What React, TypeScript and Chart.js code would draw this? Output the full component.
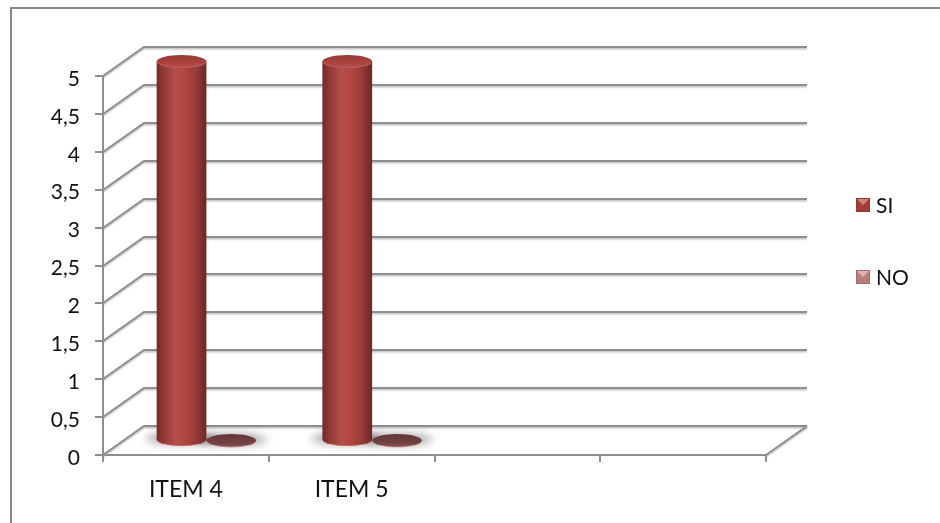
import React, { useEffect, useRef } from 'react';
import { Chart, registerables } from 'chart.js';

Chart.register(...registerables);

// ---- data ----
const categories = ['ITEM 4', 'ITEM 5', '', ''];
const siValues: (number | null)[] = [5, 5, null, null];
const noValues: (number | null)[] = [0, 0, null, null];
const seriesNames = ['SI', 'NO'];
const seriesColors = ['#b0433f', '#c98886'];
const yMin = 0;
const yMax = 5;
const yStep = 0.5;

// ---- look ----
const FONT = 'Lato, "Noto Sans", sans-serif';
const TEXT = '#111111';
const GRID = '#8e8e8e';
const DEPTH_X = 41; // horizontal shift from the front plane to the back wall
const DEPTH_Y = -29; // vertical shift from the front plane to the back wall

// Back wall, side wall diagonals, floor and the outer frame
const walls3d = {
  id: 'walls3d',
  beforeDraw(chart: any) {
    const { ctx, chartArea: a, scales } = chart;
    const y = scales.y;
    ctx.save();
    ctx.strokeStyle = '#878787';
    ctx.lineWidth = 2;
    ctx.beginPath();
    ctx.moveTo(11, chart.height);
    ctx.lineTo(11, 8);
    ctx.lineTo(chart.width, 8);
    ctx.stroke();

    ctx.strokeStyle = GRID;
    ctx.lineWidth = 2;
    ctx.shadowColor = 'rgba(0,0,0,0.25)';
    ctx.shadowOffsetY = 1.5;
    ctx.shadowBlur = 1.5;
    y.ticks.forEach((t: any) => {
      const py = Math.round(y.getPixelForValue(t.value));
      ctx.beginPath();
      ctx.moveTo(a.left, py);
      ctx.lineTo(a.left + DEPTH_X, py + DEPTH_Y);
      ctx.lineTo(a.right + DEPTH_X, py + DEPTH_Y);
      ctx.stroke();
    });
    const p0 = Math.round(y.getPixelForValue(yMin));
    ctx.beginPath();
    ctx.moveTo(a.right, p0);
    ctx.lineTo(a.right + DEPTH_X, p0 + DEPTH_Y);
    ctx.stroke();
    ctx.restore();
  },
};

function shade(hex: string, f: number) {
  const n = parseInt(hex.slice(1), 16);
  const c = [(n >> 16) & 255, (n >> 8) & 255, n & 255].map((v) =>
    Math.max(0, Math.min(255, Math.round(f < 1 ? v * f : v + (255 - v) * (f - 1))))
  );
  return `rgb(${c[0]},${c[1]},${c[2]})`;
}

// Bars drawn as cylinders standing in the middle of the depth
const cylinders = {
  id: 'cylinders',
  beforeDatasetsDraw(chart: any) {
    const ctx = chart.ctx;
    ctx.save();
    ctx.filter = 'blur(4px)';
    ctx.fillStyle = 'rgba(0,0,0,0.34)';
    chart.data.datasets.forEach((ds: any, di: number) => {
      const meta = chart.getDatasetMeta(di);
      meta.data.forEach((el: any, i: number) => {
        if (ds.data[i] == null) return;
        const { x, base, width } = el.getProps(['x', 'base', 'width'], true);
        const cx = x + DEPTH_X / 2;
        const by = base + DEPTH_Y / 2;
        ctx.beginPath();
        ctx.ellipse(cx, by - 1, width / 2 + 11, 6, 0, 0, Math.PI * 2);
        ctx.fill();
      });
    });
    ctx.restore();
  },
  beforeDatasetDraw(chart: any, args: any) {
    const ctx = chart.ctx;
    const ds = chart.data.datasets[args.index];
    const color: string = ds.backgroundColor;
    ctx.save();
    args.meta.data.forEach((el: any, i: number) => {
      const v = ds.data[i];
      if (v == null) return;
      const { x, y, base, width } = el.getProps(['x', 'y', 'base', 'width'], true);
      const cx = x + DEPTH_X / 2;
      const rx = width / 2;
      const ry = 6.5;
      const top = y + DEPTH_Y / 2;
      const bot = base + DEPTH_Y / 2;
      if (bot - top < 1) {
        // flat disk for a zero value
        ctx.beginPath();
        ctx.ellipse(cx, bot, rx, ry, 0, 0, Math.PI * 2);
        const g = ctx.createLinearGradient(0, bot - ry, 0, bot + ry);
        g.addColorStop(0, '#633739');
        g.addColorStop(0.7, '#724244');
        g.addColorStop(1, '#8a5254');
        ctx.fillStyle = g;
        ctx.fill();
        ctx.beginPath();
        ctx.ellipse(cx, bot, rx, ry, 0, 0.15, Math.PI - 0.15);
        ctx.strokeStyle = 'rgba(205,125,125,0.6)';
        ctx.lineWidth = 1;
        ctx.stroke();
        return;
      }
      // body
      const g = ctx.createLinearGradient(cx - rx, 0, cx + rx, 0);
      g.addColorStop(0, shade(color, 0.62));
      g.addColorStop(0.12, shade(color, 0.82));
      g.addColorStop(0.38, shade(color, 1.06));
      g.addColorStop(0.55, shade(color, 1.02));
      g.addColorStop(0.8, shade(color, 0.86));
      g.addColorStop(0.95, shade(color, 0.66));
      g.addColorStop(1, shade(color, 0.6));
      ctx.beginPath();
      ctx.moveTo(cx - rx, top);
      ctx.lineTo(cx - rx, bot);
      ctx.ellipse(cx, bot, rx, ry, 0, Math.PI, 0, true);
      ctx.lineTo(cx + rx, top);
      ctx.closePath();
      ctx.fillStyle = g;
      ctx.fill();
      // bottom rim
      ctx.beginPath();
      ctx.ellipse(cx, bot, rx - 0.5, ry - 0.5, 0, 0.25, Math.PI - 0.25);
      ctx.strokeStyle = 'rgba(230,110,105,0.45)';
      ctx.lineWidth = 1;
      ctx.stroke();
      // top cap
      const tg = ctx.createLinearGradient(0, top - ry, 0, top + ry);
      tg.addColorStop(0, shade(color, 0.85));
      tg.addColorStop(0.6, shade(color, 0.98));
      tg.addColorStop(1, shade(color, 1.08));
      ctx.beginPath();
      ctx.ellipse(cx, top, rx, ry, 0, 0, Math.PI * 2);
      ctx.fillStyle = tg;
      ctx.fill();
      ctx.beginPath();
      ctx.ellipse(cx, top, rx - 0.5, ry - 0.5, 0, 0.2, Math.PI - 0.2);
      ctx.strokeStyle = shade(color, 1.15);
      ctx.lineWidth = 1;
      ctx.stroke();
    });
    ctx.restore();
    return false;
  },
};

// Series key at the right side
const sideLegend = {
  id: 'sideLegend',
  afterDraw(chart: any) {
    const ctx = chart.ctx;
    ctx.save();
    chart.data.datasets.forEach((ds: any, i: number) => {
      const c: string = ds.backgroundColor;
      const sx = 856;
      const sy = 198 + i * 72;
      const s = 14;
      ctx.fillStyle = shade(c, 0.8);
      ctx.fillRect(sx, sy, s, s);
      ctx.fillStyle = shade(c, 0.92);
      ctx.fillRect(sx + 1, sy + 1, s - 2, s - 2);
      ctx.beginPath();
      ctx.moveTo(sx + 1, sy + 1);
      ctx.lineTo(sx + s - 1, sy + 1);
      ctx.lineTo(sx + s / 2, sy + s / 2);
      ctx.closePath();
      ctx.fillStyle = shade(c, 1.35);
      ctx.fill();
      ctx.fillStyle = TEXT;
      ctx.font = `21px ${FONT}`;
      ctx.textBaseline = 'middle';
      ctx.textAlign = 'left';
      ctx.fillText(ds.label, sx + s + 6, sy + s / 2 + 1);
    });
    ctx.restore();
  },
};

export default function App() {
  const ref = useRef<HTMLCanvasElement | null>(null);

  useEffect(() => {
    if (!ref.current) return;
    const chart = new Chart(ref.current, {
      type: 'bar',
      data: {
        labels: categories,
        datasets: [
          { label: seriesNames[0], data: siValues, backgroundColor: seriesColors[0] },
          { label: seriesNames[1], data: noValues, backgroundColor: seriesColors[1] },
        ],
      },
      options: {
        responsive: false,
        animation: false,
        devicePixelRatio: 1,
        datasets: { bar: { categoryPercentage: 0.6, barPercentage: 1.0 } },
        layout: { padding: { left: 0, top: 76, right: 174, bottom: 0 } },
        plugins: { legend: { display: false }, tooltip: { enabled: false } },
        scales: {
          x: {
            type: 'category',
            offset: true,
            grid: {
              offset: true,
              drawOnChartArea: false,
              drawTicks: true,
              tickLength: 7,
              color: GRID,
              lineWidth: 2,
            },
            border: { display: true, color: GRID, width: 2 },
            ticks: { padding: 14, color: TEXT, font: { family: FONT, size: 23 }, maxRotation: 0 },
            afterFit: (s: any) => {
              s.height = 68;
            },
          },
          y: {
            type: 'linear',
            min: yMin,
            max: yMax,
            grid: {
              drawOnChartArea: false,
              drawTicks: true,
              tickLength: 8,
              color: GRID,
              lineWidth: 2,
            },
            border: { display: true, color: GRID, width: 2 },
            ticks: {
              stepSize: yStep,
              padding: 15,
              labelOffset: 3,
              color: TEXT,
              font: { family: FONT, size: 21 },
              callback: (v: any) => String(v).replace('.', ','),
            },
            afterFit: (s: any) => {
              s.width = 103;
            },
          },
        },
      } as any,
      plugins: [walls3d, cylinders, sideLegend],
    });
    return () => chart.destroy();
  }, []);

  return (
    <div style={{ position: 'absolute', left: 0, top: 0, width: 940, height: 523, background: '#ffffff' }}>
      <canvas ref={ref} width={940} height={523} />
    </div>
  );
}
